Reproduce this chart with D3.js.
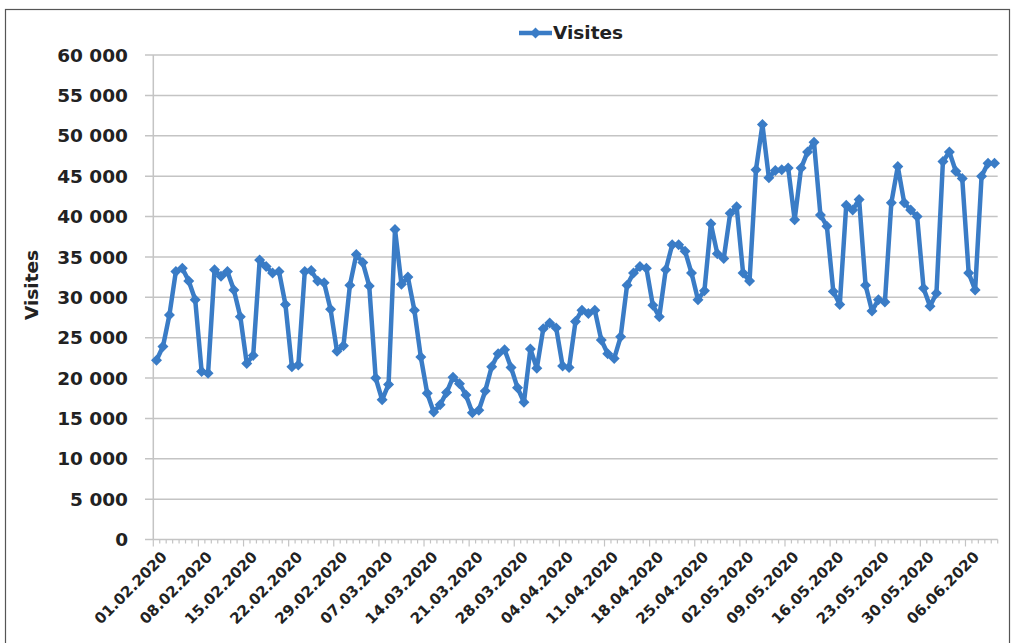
<!DOCTYPE html>
<html><head><meta charset="utf-8">
<script src="https://cdn.jsdelivr.net/npm/d3@7"></script>
<style>body{margin:0;background:#fff;} svg{display:block}</style>
</head><body>
<svg id="c" width="1016" height="643"></svg>
<script>
// ---- data ----
const startDate = "2020-02-01";
const visites = [
  22200, 23900, 27800, 33200, 33600, 32000, 29700,
  20800, 20600, 33400, 32600, 33200, 30900, 27600,
  21800, 22800, 34600, 33800, 33000, 33200, 29100,
  21400, 21600, 33200, 33300, 32000, 31800, 28500,
  23300, 24000, 31500, 35300, 34300, 31400, 20000,
  17300, 19200, 38400, 31600, 32500, 28400, 22600,
  18100, 15800, 16700, 18200, 20100, 19300, 17900,
  15700, 16000, 18400, 21400, 23000, 23500, 21300,
  18800, 17000, 23600, 21200, 26100, 26800, 26200,
  21500, 21300, 27000, 28400, 28000, 28400, 24700,
  23000, 22400, 25100, 31500, 33000, 33800, 33600,
  29000, 27600, 33400, 36500, 36500, 35700, 33000,
  29700, 30800, 39100, 35400, 34800, 40400, 41200,
  33000, 32000, 45800, 51400, 44800, 45700, 45800,
  46000, 39600, 46000, 48000, 49200, 40200, 38800,
  30700, 29100, 41400, 40800, 42100, 31500, 28300,
  29700, 29400, 41700, 46200, 41700, 40800, 40000,
  31100, 28900, 30500, 46800, 48000, 45600, 44700,
  33000, 30900, 45000, 46600, 46600
];
const yTicks = [0, 5000, 10000, 15000, 20000, 25000, 30000, 35000, 40000, 45000, 50000, 55000, 60000];
const xTickLabels = ["01.02.2020","08.02.2020","15.02.2020","22.02.2020","29.02.2020","07.03.2020",
  "14.03.2020","21.03.2020","28.03.2020","04.04.2020","11.04.2020","18.04.2020","25.04.2020",
  "02.05.2020","09.05.2020","16.05.2020","23.05.2020","30.05.2020","06.06.2020"];
const seriesName = "Visites";
const yTitle = "Visites";

// ---- chart ----
const svg = d3.select("#c");
const FONT = "'DejaVu Sans', sans-serif";
const BLUE = "#3A7CC6";
const GRID = "#c4c4c4";
const TXT = "#222";

const t0 = d3.utcParse("%Y-%m-%d")(startDate);
const dates = visites.map((v, i) => d3.utcDay.offset(t0, i));
const tEnd = d3.utcDay.offset(t0, visites.length);
const data = visites.map((v, i) => ({date: dates[i], v}));
const mid = d => d3.utcHour.offset(d, 12);

const x = d3.scaleUtc().domain([t0, tEnd]).range([153.3, 997.7]);
const y = d3.scaleLinear().domain([0, 60000]).range([539.5, 55]);

// outer border
svg.append("rect").attr("x", 5.5).attr("y", 9.5).attr("width", 1004).attr("height", 640)
  .attr("fill", "none").attr("stroke", "#555").attr("stroke-width", 1.2);

// gridlines
svg.append("g").selectAll("line").data(yTicks.filter(v => v > 0)).join("line")
  .attr("x1", 145).attr("x2", x(tEnd))
  .attr("y1", d => y(d)).attr("y2", d => y(d))
  .attr("stroke", GRID).attr("stroke-width", 1.5);
svg.append("line").attr("x1", 145).attr("x2", x(t0)).attr("y1", y(0)).attr("y2", y(0))
  .attr("stroke", GRID).attr("stroke-width", 1.5);

// axes lines
svg.append("line").attr("x1", x(t0)).attr("x2", x(t0)).attr("y1", y(60000)).attr("y2", y(0))
  .attr("stroke", GRID).attr("stroke-width", 1.5);
svg.append("line").attr("x1", x(t0)).attr("x2", x(tEnd)).attr("y1", y(0)).attr("y2", y(0))
  .attr("stroke", GRID).attr("stroke-width", 1.5);

// y labels
const fmt = d3.formatLocale({thousands: " ", grouping: [3], decimal: ",", currency: ["", ""]}).format(",d");
svg.append("g").selectAll("text").data(yTicks).join("text")
  .attr("x", 128).attr("y", d => y(d)).attr("dy", "0.36em")
  .attr("text-anchor", "end").attr("font-family", FONT).attr("font-weight", "bold")
  .attr("font-size", 18.5).attr("fill", TXT).text(d => fmt(d));

// x ticks
const days = d3.utcDay.range(t0, d3.utcDay.offset(tEnd, 1));
svg.append("g").selectAll("line").data(days).join("line")
  .attr("x1", d => x(d)).attr("x2", d => x(d))
  .attr("y1", y(0)).attr("y2", (d, i) => y(0) + (i % 7 === 0 ? 7 : 4))
  .attr("stroke", GRID).attr("stroke-width", 1.2);

// x labels
const pLab = d3.utcParse("%d.%m.%Y");
svg.append("g").selectAll("text").data(xTickLabels).join("text")
  .attr("transform", d => `translate(${x(mid(pLab(d))) + 4},${y(0) + 11}) rotate(-45)`)
  .attr("text-anchor", "end").attr("dy", "0.7em")
  .attr("font-family", FONT).attr("font-weight", "bold").attr("font-size", 15)
  .attr("fill", TXT).text(d => d);

// y title
svg.append("text").attr("transform", "translate(38,285) rotate(-90)")
  .attr("text-anchor", "middle").attr("font-family", FONT).attr("font-weight", "bold")
  .attr("font-size", 18.5).attr("fill", TXT).text(yTitle);

// line
const line = d3.line().x(d => x(mid(d.date))).y(d => y(d.v));
svg.append("path").datum(data).attr("d", line)
  .attr("fill", "none").attr("stroke", BLUE).attr("stroke-width", 4.5)
  .attr("stroke-linejoin", "round");

const diamond = "M0,-5.5L5.5,0L0,5.5L-5.5,0Z";
svg.append("g").selectAll("path").data(data).join("path")
  .attr("d", diamond)
  .attr("transform", d => `translate(${x(mid(d.date))},${y(d.v)})`)
  .attr("fill", BLUE);

// legend
svg.append("line").attr("x1", 519).attr("x2", 552).attr("y1", 33).attr("y2", 33)
  .attr("stroke", BLUE).attr("stroke-width", 4.5);
svg.append("path").attr("d", diamond).attr("transform", "translate(535.5,33)").attr("fill", BLUE);
svg.append("text").attr("x", 553).attr("y", 38.5)
  .attr("font-family", FONT).attr("font-weight", "bold").attr("font-size", 18.5)
  .attr("fill", TXT).text(seriesName);
</script>
</body></html>
